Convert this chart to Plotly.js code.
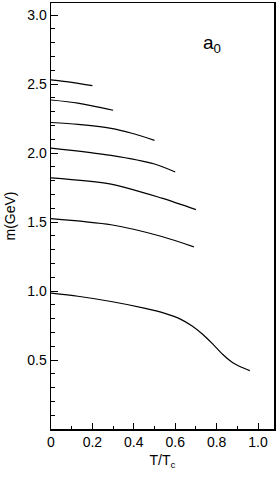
<!DOCTYPE html>
<html>
<head>
<meta charset="utf-8">
<script src="https://cdn.plot.ly/plotly-3.0.1.min.js"></script>
<style>html,body{margin:0;padding:0;background:#fff;}#chart{width:280px;height:479px;}</style>
</head>
<body>
<div id="chart"></div>
<script>
// T/Tc values and masses (GeV) for each a0 state
const t1 = [0, 0.1, 0.2];
const m1 = [2.53, 2.512, 2.488];
const t2 = [0, 0.13, 0.3];
const m2 = [2.384, 2.362, 2.31];
const t3 = [0, 0.13, 0.29, 0.39, 0.5];
const m3 = [2.221, 2.207, 2.178, 2.143, 2.092];
const t4 = [0, 0.29, 0.5, 0.6];
const m4 = [2.036, 1.983, 1.92, 1.862];
const t5 = [0, 0.29, 0.535, 0.7];
const m5 = [1.82, 1.775, 1.673, 1.59];
const t6 = [0, 0.29, 0.535, 0.69];
const m6 = [1.525, 1.48, 1.395, 1.32];
const t7 = [0, 0.13, 0.29, 0.45, 0.55, 0.62, 0.68, 0.735, 0.785, 0.83, 0.88, 0.92, 0.96];
const m7 = [0.985, 0.962, 0.924, 0.876, 0.838, 0.800, 0.748, 0.683, 0.61, 0.54, 0.478, 0.447, 0.423];

const xTickVals = [0, 0.2, 0.4, 0.6, 0.8, 1.0];
const xTickText = ['0', '0.2', '0.4', '0.6', '0.8', '1.0'];
const yTickVals = [0.5, 1.0, 1.5, 2.0, 2.5, 3.0];
const yTickText = ['0.5', '1.0', '1.5', '2.0', '2.5', '3.0'];

const series = [[t1, m1], [t2, m2], [t3, m3], [t4, m4], [t5, m5], [t6, m6], [t7, m7]];
const traces = series.map(([x, y]) => ({
  x: x, y: y, type: 'scatter', mode: 'lines',
  line: {color: 'black', width: 1.2, shape: 'spline', smoothing: 0.8},
  hoverinfo: 'skip', showlegend: false
}));

const font = {family: 'Liberation Sans, Arial, Helvetica, sans-serif', size: 14, color: 'black'};
const layout = {
  width: 280, height: 479,
  margin: {l: 51, r: 6, t: 3, b: 50},
  paper_bgcolor: 'white', plot_bgcolor: 'white',
  font: font,
  showlegend: false,
  xaxis: {
    range: [0, 1.077], tickvals: xTickVals, ticktext: xTickText,
    ticks: 'inside', ticklen: 6, tickwidth: 1, tickcolor: 'black',
    minor: {dtick: 0.1, tick0: 0, ticks: 'inside', ticklen: 3, tickcolor: 'black', showgrid: false},
    showline: true, linecolor: 'black', linewidth: 1.5, mirror: true,
    showgrid: false, zeroline: false, tickfont: font,
    title: {text: 'T/T<sub>c</sub>', font: font, standoff: 6}
  },
  yaxis: {
    range: [0, 3.087], tickvals: yTickVals, ticktext: yTickText,
    ticks: 'inside', ticklen: 7, tickwidth: 1, tickcolor: 'black',
    minor: {dtick: 0.1, tick0: 0, ticks: 'inside', ticklen: 4, tickcolor: 'black', showgrid: false},
    showline: true, linecolor: 'black', linewidth: 1.5, mirror: true,
    showgrid: false, zeroline: false, tickfont: font,
    title: {text: 'm(GeV)', font: font, standoff: 8}
  },
  annotations: [{
    x: 0.778, y: 2.79, xref: 'x', yref: 'y', showarrow: false,
    text: 'a<sub>0</sub>', font: {family: font.family, size: 19, color: 'black'},
    xanchor: 'center', yanchor: 'middle'
  }]
};

Plotly.newPlot('chart', traces, layout, {displayModeBar: false, staticPlot: true});
</script>
</body>
</html>
